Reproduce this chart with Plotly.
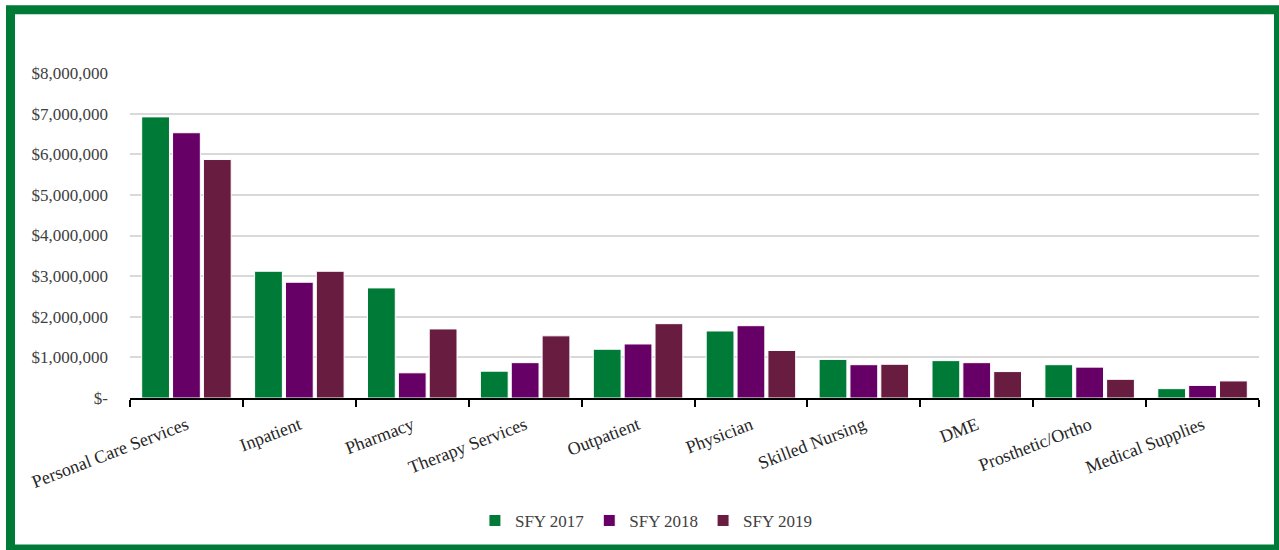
import plotly.graph_objects as go

categories = ["Personal Care Services", "Inpatient", "Pharmacy", "Therapy Services",
              "Outpatient", "Physician", "Skilled Nursing", "DME",
              "Prosthetic/Ortho", "Medical Supplies"]
sfy_2017 = [6920000, 3120000, 2710000, 660000, 1200000, 1650000, 950000, 920000, 820000, 230000]
sfy_2018 = [6530000, 2850000, 620000, 870000, 1330000, 1780000, 820000, 870000, 760000, 310000]
sfy_2019 = [5870000, 3120000, 1700000, 1530000, 1830000, 1170000, 830000, 650000, 460000, 420000]

y_ticks = [0, 1000000, 2000000, 3000000, 4000000, 5000000, 6000000, 7000000, 8000000]
y_tick_text = ["$-"] + [f"${v:,.0f}" for v in y_ticks[1:]]

series = [("SFY 2017", sfy_2017, "#007A37"),
          ("SFY 2018", sfy_2018, "#660066"),
          ("SFY 2019", sfy_2019, "#681C3F")]

FONT = "Liberation Serif"
W, H = 1279, 550
L, R, T, B = 130, 20, 73, 151

fig = go.Figure()
for name, vals, col in series:
    fig.add_trace(go.Bar(x=categories, y=vals, name=name,
                         marker=dict(color=col, line=dict(color="white", width=1))))

fig.update_layout(
    width=W, height=H,
    margin=dict(l=L, r=R, t=T, b=B),
    paper_bgcolor="white", plot_bgcolor="white",
    barmode="group", bargap=0.18, bargroupgap=0.1,
    font=dict(family=FONT, size=17, color="#404040"),
    showlegend=True,
    legend=dict(orientation="h", x=0.457, xanchor="center", y=-0.374, yanchor="middle",
                font=dict(family=FONT, size=17, color="#404040")),
)
fig.update_xaxes(showline=True, linecolor="black", linewidth=1.5,
                 ticks="outside", ticklen=7, tickcolor="black", tickwidth=1.5,
                 tickson="boundaries", tickangle=-21, showgrid=False,
                 ticklabelstandoff=8,
                 tickfont=dict(family=FONT, size=18, color="#262626"))
fig.update_yaxes(range=[0, 8000000], tickvals=y_ticks, ticktext=y_tick_text,
                 showgrid=True, gridcolor="#d9d9d9", gridwidth=1.5, zeroline=False,
                 ticklabelstandoff=21,
                 tickfont=dict(family=FONT, size=17, color="#404040"))

# green frame around the whole chart (paper coordinates of the plot area)
pw, ph = W - L - R, H - T - B
def px_x(v):
    return (v - L) / pw
def px_y(v):
    return (H - B - v) / ph
fig.add_shape(type="rect", xref="paper", yref="paper",
              x0=px_x(10.5), x1=px_x(1278.5), y0=px_y(550.5), y1=px_y(9.5),
              line=dict(color="#007A37", width=9), fillcolor="rgba(0,0,0,0)")

# drop the default page margin so the figure sits at the window origin
fig.write_html("out.html", config={"displayModeBar": False},
               post_script="document.body.style.margin='0';")
